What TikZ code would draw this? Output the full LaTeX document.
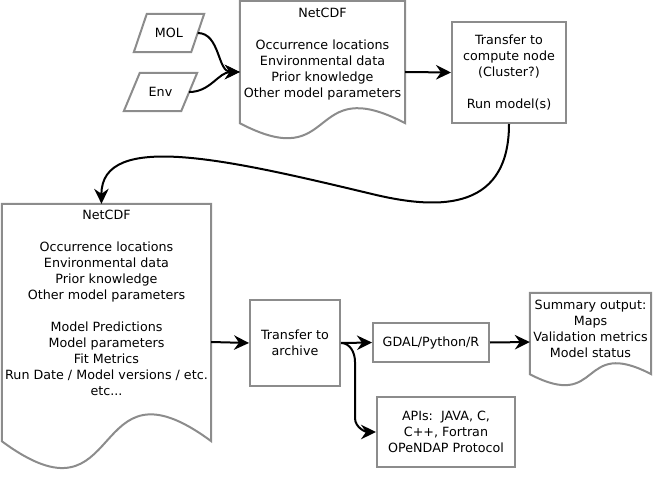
\documentclass[tikz,border=0pt]{standalone}
\usepackage{fontspec}
\setmainfont{DejaVu Sans}
\usetikzlibrary{calc,arrows.meta}
\definecolor{edgegray}{HTML}{8C8C8C}
\def\docshape[#1](#2)(#3:#4){\draw[#1] (#2.north west) -- (#2.north east) -- ($(#2.south east)+(0,-#3)$) .. controls ($(#2.south east)!0.6!(#2.south west)+(0,-#3-#4)$) and ($(#2.south west)!0.6!(#2.south east)+(0,-#3+#4)$) .. ($(#2.south west)+(0,-#3)$) -- cycle;}
\def\slantbox[#1](#2)(#3){\draw[#1] ($(#2.north west)+(#3,0)$) -- (#2.north east) -- ($(#2.south east)+(-#3,0)$) -- (#2.south west) -- cycle;}

\begin{document}
\begin{tikzpicture}[x=1pt,y=-1pt,
		frame/.style={rectangle, inner sep=0pt, align=center, font=\fontsize{12.7}{16}\selectfont},
		box/.style={frame, draw=edgegray, line width=2pt},
		outline/.style={draw=edgegray, line width=2pt},
		flow/.style={line width=2pt, -{Stealth[length=15pt,width=14.5pt,inset=5pt]}}]
			%%%%% START %%%%%
			\useasboundingbox (0,0) rectangle (653,481);
			
			\node[frame, minimum width=70, minimum height=38] (mol) at (169,33) {MOL};
			\node[frame, minimum width=73, minimum height=38] (env) at (160.5,92) {Env};
			\slantbox[outline](mol)(13);
			\slantbox[outline](env)(16);
			
			\node[frame, minimum width=165, minimum height=142] (ncA) at (322.5,72) {};
			\docshape[outline](ncA)(20:52);
			\node[frame, anchor=north] (ncAtext) at ([yshift=-7pt]ncA.north) {NetCDF\\[16pt]Occurrence locations\\Environmental data\\Prior knowledge\\Other model parameters};
			
			\node[box, minimum width=114, minimum height=101] (cmp) at (509,72.5) {Transfer to\\compute node\\(Cluster?)\\[16pt]Run model(s)};
			
			\node[frame, minimum width=209, minimum height=276] (ncB) at (106.5,342) {};
			\docshape[outline](ncB)(39:93);
			\node[frame, anchor=north] (ncBtext) at ([yshift=-6.5pt]ncB.north) {NetCDF\\[16pt]Occurrence locations\\Environmental data\\Prior knowledge\\Other model parameters\\[16pt]Model Predictions\\Model parameters\\Fit Metrics\\Run Date / Model versions / etc.\\etc...};
			
			\node[box, minimum width=90, minimum height=86] (arc) at (295,343) {Transfer to\\archive};
			\node[box, minimum width=116, minimum height=39] (gdal) at (431,342.5) {GDAL/Python/R};
			\node[box, minimum width=138, minimum height=70] (apis) at (446,432) {APIs:\ \ JAVA, C,\\C++, Fortran\\OPeNDAP Protocol};
			
			\node[frame, minimum width=121, minimum height=98] (sum) at (590.5,342) {};
			\docshape[outline](sum)(17:38);
			\node[frame, anchor=north] (sumtext) at ([yshift=-7.5pt]sum.north) {Summary output:\\Maps\\Validation metrics\\Model status};
			
			\draw[flow] ([xshift=-6.5pt]mol.east) to[out=0,in=180] (ncA.west);
			\draw[flow] ([xshift=-8pt]env.east) to[out=0,in=180] (ncA.west);
			\draw[flow] (ncA.east) -- (cmp.west);
			\draw[flow] (cmp.south) .. controls +(0,92) and (430,208) .. (372,194) .. controls (230,160) and (101,130) .. ([xshift=-5pt]ncB.north);
			\draw[flow] (ncB.east) -- (arc.west);
			\draw[flow] (arc.east) -- (gdal.west);
			\draw[flow] (arc.east) to[out=0,in=90] (355,362) -- (355,418) to[out=270,in=180] (apis.west);
			\draw[flow] (gdal.east) -- (sum.west);
			
			%%%%% END %%%%%
\end{tikzpicture}
\end{document}
